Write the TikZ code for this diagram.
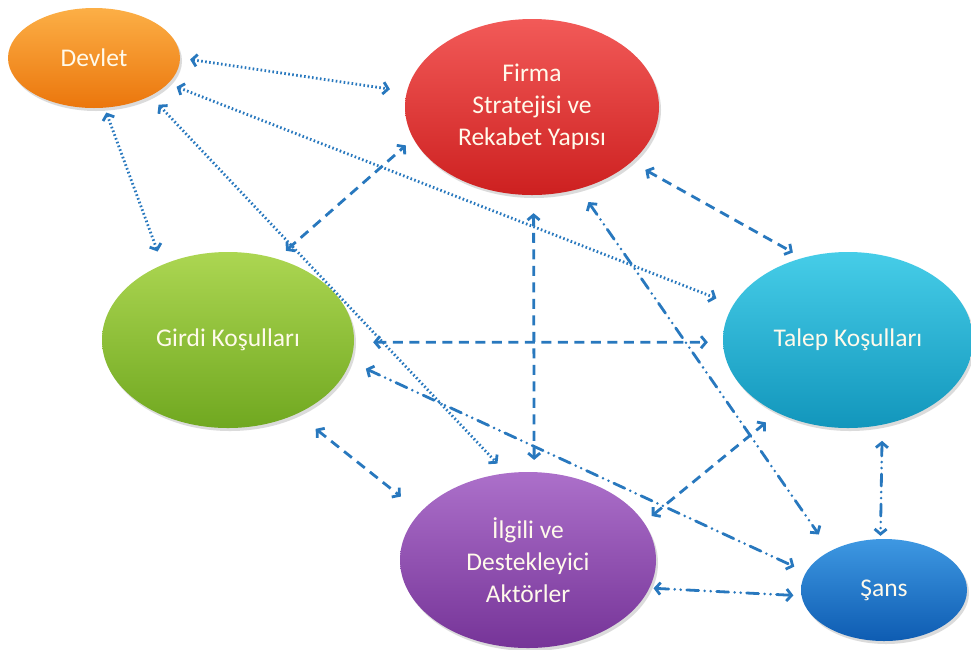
\documentclass[tikz,border=0pt]{standalone}
\usepackage{fontspec}
\newfontfamily\bubf{Carlito}
\usetikzlibrary{shapes.geometric,arrows.meta,shadows}
\definecolor{arrowc}{RGB}{40,120,190}
\definecolor{devT}{RGB}{252,175,70}\definecolor{devB}{RGB}{235,118,12}
\definecolor{firT}{RGB}{242,90,88}\definecolor{firB}{RGB}{205,32,32}
\definecolor{girT}{RGB}{172,214,82}\definecolor{girB}{RGB}{112,168,32}
\definecolor{talT}{RGB}{70,205,232}\definecolor{talB}{RGB}{18,150,188}
\definecolor{ilgT}{RGB}{172,112,202}\definecolor{ilgB}{RGB}{118,52,152}
\definecolor{sanT}{RGB}{62,152,226}\definecolor{sanB}{RGB}{14,92,178}
\definecolor{txt}{RGB}{255,250,235}
\tikzset{
  bub/.style={ellipse, inner sep=0pt, text=txt, align=center,
    font=\bubf\fontsize{25.5}{32}\selectfont,
    drop shadow={opacity=0.28, shadow xshift=2pt, shadow yshift=-3pt}},
  con/.style={draw=arrowc, line width=2.8pt, {Straight Barb[length=5pt,width=12pt]}-{Straight Barb[length=5pt,width=12pt]}},
  dotc/.style={con, line cap=butt, dash pattern=on 1.6pt off 2.4pt},
  dashc/.style={con, line cap=butt, dash pattern=on 10pt off 6.5pt},
  ddc/.style={con, line cap=round, dash pattern=on 12pt off 6pt on 0pt off 6pt on 0pt off 6pt}
}
\begin{document}
\begin{tikzpicture}[x=1pt,y=-1pt]
\useasboundingbox (0,0) rectangle (971,649);
\fill[white] (0,0) rectangle (971,649);
% nodes
\node[bub, minimum width=172pt, minimum height=100pt, top color=devT, bottom color=devB] (dev) at (94,58) {Devlet};
\node[bub, minimum width=254pt, minimum height=176pt, top color=firT, bottom color=firB] (firma) at (532,107) {Firma\\Stratejisi ve\\Rekabet Yapısı};
\node[bub, minimum width=252pt, minimum height=176pt, top color=girT, bottom color=girB] (girdi) at (228,340) {Girdi Koşulları};
\node[bub, minimum width=250pt, minimum height=176pt, top color=talT, bottom color=talB] (talep) at (848,340) {Talep Koşulları};
\node[bub, minimum width=256pt, minimum height=176pt, top color=ilgT, bottom color=ilgB] (ilgili) at (528,560) {İlgili ve\\Destekleyici\\Aktörler};
\node[bub, minimum width=166pt, minimum height=102pt, top color=sanT, bottom color=sanB] (sans) at (884,590) {Şans};
% dotted connectors (Devlet)
\draw[dotc, shorten <=10pt, shorten >=17pt] (dev.0) -- (firma.173.2);
\draw[dotc, shorten <=9pt, shorten >=18pt] (dev.-19.5) -- (talep.163.1);
\draw[dotc, shorten <=12pt, shorten >=13pt] (dev.-34.3) -- (ilgili.104);
\draw[dotc, shorten <=5pt, shorten >=14pt] (dev.-78.7) -- (girdi.131.8);
% dashed connectors
\draw[dashc, shorten <=12pt, shorten >=10pt] (girdi.59.1) -- (firma.195.8);
\draw[dashc, shorten <=19pt, shorten >=15pt] (girdi.-1.2) -- (talep.181.2);
\draw[dashc, shorten <=18pt, shorten >=12pt] (firma.-89) -- (ilgili.86.6);
\draw[dashc, shorten <=16pt, shorten >=11pt] (firma.-29.1) -- (talep.119.7);
\draw[dashc, shorten <=24pt, shorten >=25pt] (girdi.-47.6) -- (ilgili.156.1);
\draw[dashc, shorten <=10pt, shorten >=15pt] (ilgili.18.7) -- (talep.-134.3);
% dash-dot connectors (Sans)
\draw[ddc, shorten <=16pt, shorten >=20pt] (firma.-60.2) -- (sans.144.8);
\draw[ddc, shorten <=17pt, shorten >=13pt] (girdi.-10.2) -- (sans.167.6);
\draw[ddc, shorten <=4pt, shorten >=8pt] (ilgili.-13.5) -- (sans.184.4);
\draw[ddc, shorten <=16pt, shorten >=3pt] (talep.-68.7) -- (sans.94.3);
\end{tikzpicture}
\end{document}
